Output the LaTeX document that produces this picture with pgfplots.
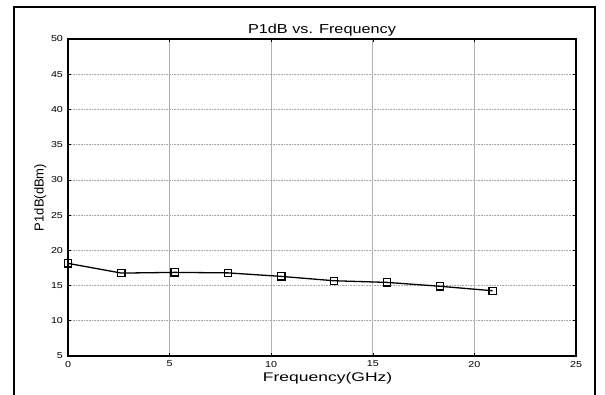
\documentclass[border=0pt]{standalone}
\usepackage{pgfplots}
\pgfplotsset{compat=1.18}
\usepackage{fontspec}
\setmainfont{Liberation Sans}
\begin{document}
\begin{tikzpicture}[x=1pt,y=1pt]
\useasboundingbox (0,0) rectangle (605,394);
\draw[line width=2pt] (14,-10) -- (14,387) -- (595,387) -- (595,-10);
\begin{axis}[
  at={(68pt,38pt)}, anchor=south west,
  scale only axis, width=508pt, height=317pt,
  xmin=0, xmax=25, ymin=5, ymax=50,
  xtick={0,5,...,25}, ytick={5,10,...,50},
  tick align=inside, major tick length=3pt,
  tick style={black, line width=0.6pt},
  axis line style={line width=1.3pt},
  grid=major,
  x grid style={gray!60, line width=0.8pt},
  y grid style={gray!70, line width=0.6pt, densely dotted},
  /pgf/number format/assume math mode=true,
  ticklabel style={font=\fontsize{8.6}{9}\selectfont, xscale=1.25},
  yticklabel style={xshift=-0.5pt},
  title={P1dB vs. Frequency},
  title style={font=\fontsize{13}{14}\selectfont, xscale=1.25, yshift=-7pt},
  xlabel={Frequency(GHz)},
  ylabel={P1dB(dBm)},
  xlabel style={font=\fontsize{12.5}{14}\selectfont, xscale=1.4, yshift=2pt, xshift=4pt},
  ylabel style={font=\fontsize{13}{14}\selectfont, yshift=-3pt},
  xticklabel style={yshift=-1.5pt},
]
\addplot[black, line width=1.3pt, mark=square, mark size=3.6pt, mark options={line width=1.3pt}]
coordinates {
(0,18.15) (2.63,16.77) (5.25,16.87) (7.87,16.8) (10.5,16.3) (13.1,15.68) (15.7,15.45) (18.3,14.9) (20.9,14.26)
};
\end{axis}
\end{tikzpicture}
\end{document}
